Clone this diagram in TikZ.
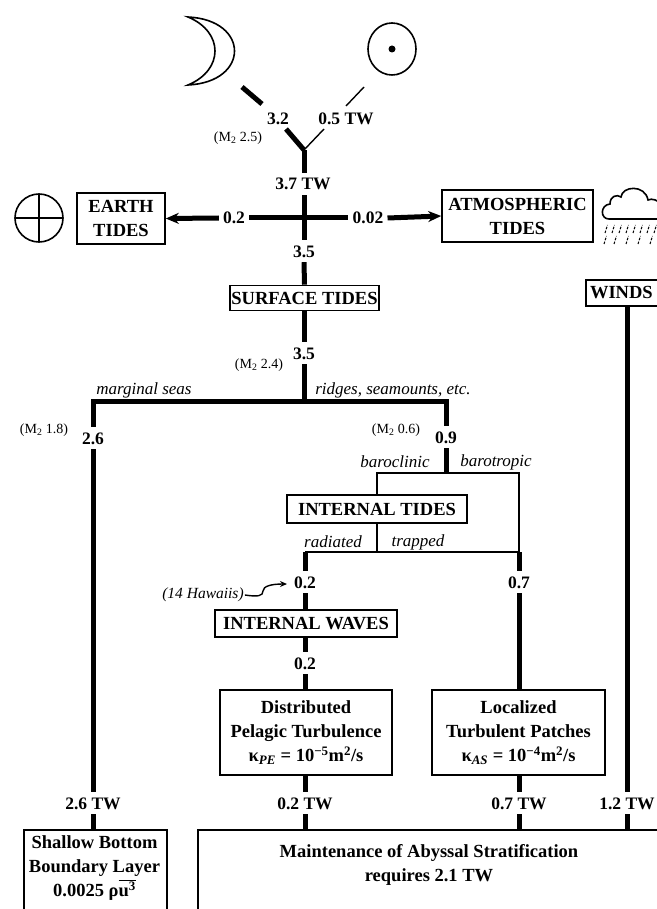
\documentclass[tikz,border=0pt]{standalone}
\usepackage{fontspec}
\setmainfont{Liberation Serif}
\usetikzlibrary{arrows.meta}
\newcommand\myB{\fontsize{18.5}{24}\selectfont\bfseries}
\newcommand\myN{\fontsize{17.5}{20}\selectfont\bfseries}
\newcommand\myI{\fontsize{17}{19}\selectfont\itshape}
\newcommand\myS{\fontsize{14}{16}\selectfont}
\newcommand\myH{\fontsize{15.5}{17}\selectfont\itshape}
\begin{document}
\begin{tikzpicture}[x=1pt,y=-1pt,
  box/.style={draw, line width=1.6pt, font=\myB, align=center, inner sep=0pt},
  num/.style={font=\myN, inner xsep=4pt, inner ysep=5pt, text height=12pt, text depth=0pt},
  thk/.style={line width=5pt},
  thn/.style={line width=1.4pt},
  lab/.style={font=\myI, inner sep=1pt},
  sml/.style={font=\myS, inner sep=1pt},
  sym/.style={line width=1.6pt}]
\useasboundingbox (0,0) rectangle (656,909);
% symbols
\draw[sym] (188,17) .. controls (250,20) and (250,82) .. (188,85) .. controls (224,70) and (224,32) .. (188,17) -- cycle;
\draw[sym] (392,49) ellipse [x radius=24pt, y radius=26pt];
\fill (392,49) circle (3.5pt);
\draw[sym] (39,218) circle (24pt);
\draw[sym] (15,218) -- (63,218) (39,194) -- (39,242);
\draw[sym] (662,219) -- (609,219) .. controls (600,219) and (600,205) .. (610,204) .. controls (610,196) and (617,194) .. (621,197) .. controls (622,186) and (645,184) .. (648,200) .. controls (652,198) and (658,200) .. (662,205);
\foreach \x in {605,612,619,626,633,640,647,654} \draw[line width=1pt, dash pattern=on 2.5pt off 1.5pt] (\x,233) -- (\x+2.5,225);
\foreach \x in {604,614,626,638,650} \draw[line width=1pt, dash pattern=on 2.5pt off 1.5pt] (\x,244) -- (\x+2.5,236);
% boxes
\node[box, minimum width=88pt, minimum height=51pt] (earth) at (121,218.5) {EARTH\\TIDES};
\node[box, minimum width=151pt, minimum height=52pt] (atmos) at (517.5,216) {ATMOSPHERIC\\TIDES};
\node[box, minimum width=149pt, minimum height=25pt] (surf) at (304.5,298) {SURFACE TIDES};
\node[box, text width=96pt, align=left, inner xsep=4pt, minimum height=26pt] (winds) at (638,293) {WINDS};
\node[box, minimum width=180pt, minimum height=28pt] (itides) at (377,509) {INTERNAL TIDES};
\node[box, minimum width=182pt, minimum height=27pt] (iwaves) at (306,623.5) {INTERNAL WAVES};
\node[box, minimum width=172pt, minimum height=85pt] (distr) at (306,732.5) {Distributed\\Pelagic Turbulence\\κ\textsubscript{\itshape PE} = 10\textsuperscript{−5}m\textsuperscript{2}/s};
\node[box, minimum width=173pt, minimum height=85pt] (local) at (518.5,732.5) {Localized\\Turbulent Patches\\κ\textsubscript{\itshape AS} = 10\textsuperscript{−4}m\textsuperscript{2}/s};
\node[box, anchor=north west, minimum width=143pt, minimum height=100pt] (shallow) at (23,829) {};
\node[font=\myB, align=center] (shallowtxt) at (94.5,868) {Shallow Bottom\\Boundary Layer\\0.0025 ρ$\overline{\hbox{u\textsuperscript{3}}}$};
\node[box, anchor=north west, minimum width=520pt, minimum height=100pt] (maint) at (197,829) {};
\node[font=\myB, align=center] (mainttxt) at (429,865) {Maintenance of Abyssal Stratification\\requires 2.1 TW};
% numbers
\node[num] (n32) at (278,119) {3.2};
\node[num] (n05) at (346,119) {0.5 TW};
\node[sml] (m25) at (238,138) {(M\textsubscript{2} 2.5)};
\node[num] (n37) at (303,184) {3.7 TW};
\node[num] (n02a) at (234,218) {0.2};
\node[num] (n002) at (368,218) {0.02};
\node[num] (n35a) at (304,251) {3.5};
\node[num] (n35b) at (304,353) {3.5};
\node[sml] (m24) at (259,365) {(M\textsubscript{2} 2.4)};
\node[lab] (marg) at (144,390) {marginal seas};
\node[lab] (ridg) at (393,390) {ridges, seamounts, etc.};
\node[num] (n26) at (93,438) {2.6};
\node[sml] (m18) at (44,430) {(M\textsubscript{2} 1.8)};
\node[num] (n09) at (446,437) {0.9};
\node[sml] (m06) at (396,430) {(M\textsubscript{2} 0.6)};
\node[lab] (baroc) at (395,462) {baroclinic};
\node[lab] (barot) at (496,462) {barotropic};
\node[lab] (rad) at (333,542) {radiated};
\node[lab] (trap) at (418,542) {trapped};
\node[num] (n02b) at (305,582) {0.2};
\node[num] (n07) at (519,582) {0.7};
\node[font=\myH, inner sep=1pt] (haw) at (203,595) {(14 Hawaiis)};
\node[num] (n02c) at (305,663) {0.2};
\node[num] (n26tw) at (93,803) {2.6 TW};
\node[num] (n02tw) at (305,803) {0.2 TW};
\node[num] (n07tw) at (519,803) {0.7 TW};
\node[num] (n12tw) at (627,803) {1.2 TW};
% coordinates
\coordinate (ml1) at (242,87); \coordinate (ml2) at (262,104);
\coordinate (sl1) at (364,87); \coordinate (sl2) at (346,106);
\coordinate (ya) at (286,129); \coordinate (yb) at (324,129);
\coordinate (yj) at (304,150);
\coordinate (br) at (304,401);
\coordinate (bb) at (446,473); \coordinate (tr1) at (519,473);
\coordinate (rl) at (305,552); \coordinate (rr) at (519,552);
% connectors
\draw[thk] (ml1) -- (ml2);
\draw[thn] (sl1) -- (sl2);
\draw[thk] (ya) -- (yj);
\draw[thn] (yb) -- (yj);
\draw[thk] (yj) -- (yj |- n37.north);
\draw[thk] (n37.south -| yj) -- (n35a.north);
\draw[thk] (n02a.east) -- (n002.west);
\draw[thk, -{Stealth[length=13pt,width=11pt]}] (n02a.west) -- (earth.east);
\draw[thk, -{Stealth[length=13pt,width=11pt]}] (n002.east) -- (atmos.west);
\draw[thk] (n35a.south) -- (surf.south |- surf.north);
\draw[thk] (surf.south -| n35b) -- (n35b.north);
\draw[thk] (n35b.south) -- (br);
\draw[thk] (n26.north) -- (n26.north |- br) -- (n09.north |- br) -- (n09.north);
\draw[thk] (n26.south) -- (n26tw.north);
\draw[thk] (n26tw.south) -- (n26tw.south |- shallow.north);
\draw[thk] (n09.south) -- (bb);
\draw[thn] (itides.north) |- (tr1) -- (rr);
\draw[thn] (itides.south) -- (itides.south |- rr);
\draw[thn] (rl) -- (rr);
\draw[thk] (rl) -- (n02b.north);
\draw[thk] (n02b.south) -- (n02b.south |- iwaves.north);
\draw[thk] (rr) -- (n07.north);
\draw[thk] (n07.south) -- (n07.south |- local.north);
\draw[thk] (n02c.north |- iwaves.south) -- (n02c.north);
\draw[thk] (n02c.south) -- (n02c.south |- distr.north);
\draw[thk] (n02tw.north |- distr.south) -- (n02tw.north);
\draw[thk] (n02tw.south) -- (n02tw.south |- maint.north);
\draw[thk] (n07tw.north |- local.south) -- (n07tw.north);
\draw[thk] (n07tw.south) -- (n07tw.south |- maint.north);
\draw[thk] (winds.south -| n12tw) -- (n12tw.north);
\draw[thk] (n12tw.south) -- (n12tw.south |- maint.north);
\draw[thn, -{Stealth[length=7pt,width=6pt]}] (haw.east) .. controls (258,597) and (263,596) .. (263,591) .. controls (263,586) and (272,584) .. (287,584);
\end{tikzpicture}
\end{document}
